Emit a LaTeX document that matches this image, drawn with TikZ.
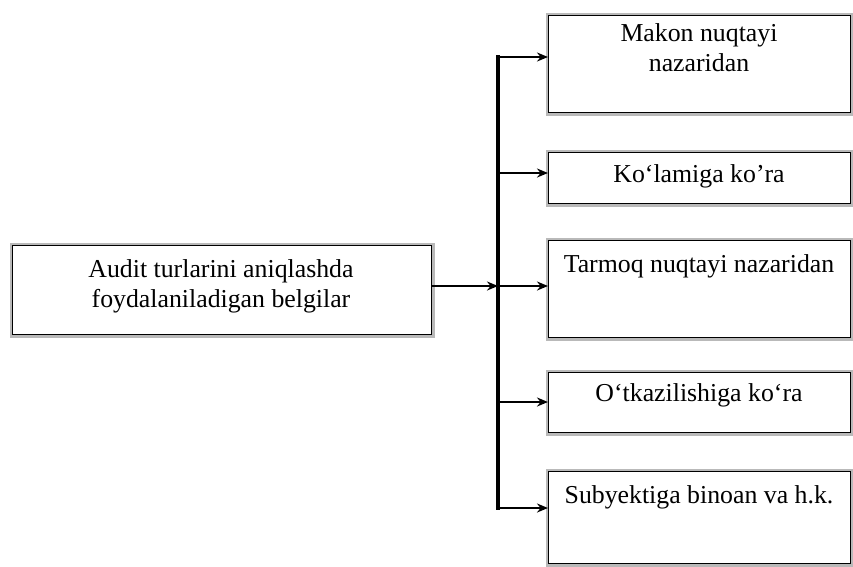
\documentclass[tikz,border=0pt]{standalone}
\usepackage{fontspec}
\setmainfont{Liberation Serif}
\usetikzlibrary{arrows.meta,calc}
\begin{document}
\begin{tikzpicture}[x=1pt,y=-1pt,
  box/.style={draw=black, fill=white, line width=1.4,
    preaction={draw=gray!55, line width=6},
    minimum width=#1, anchor=north west, inner sep=0},
  txt/.style={font=\fontsize{25.8}{30}\selectfont, align=center, inner sep=0, anchor=base},
  spine/.style={line width=3.4, line cap=rect},
  arr/.style={line width=1.9, -{Stealth[length=11,width=9]}}]
\useasboundingbox[fill=white] (0,0) rectangle (853,566);

% boxes
\node[box=419, minimum height=89] (main) at (12,245) {};
\node[box=302, minimum height=97] (b1) at (548,15) {};
\node[box=302, minimum height=51] (b2) at (548,152) {};
\node[box=302, minimum height=97] (b3) at (548,240) {};
\node[box=302, minimum height=60] (b4) at (548,372) {};
\node[box=302, minimum height=92] (b5) at (548,471) {};

% texts (base anchor = baseline of the last line)
\node[txt] (tm) at (221,307) {Audit turlarini aniqlashda\\foydalaniladigan belgilar};
\node[txt] (t1) at (699,71) {Makon nuqtayi\\nazaridan};
\node[txt] (t2) at (699,182) {Ko‘lamiga ko’ra};
\node[txt] (t3) at (699,272) {Tarmoq nuqtayi nazaridan};
\node[txt] (t4) at (699,401) {O‘tkazilishiga ko‘ra};
\node[txt] (t5) at (699,503) {Subyektiga binoan va h.k.};

% connectors
\coordinate (top) at (498,57);
\coordinate (j2) at (498,173);
\coordinate (mid) at (498,286);
\coordinate (j4) at (498,402);
\coordinate (bot) at (498,508);
\draw[spine] (top) -- (bot);
\draw[arr] (main.east |- mid) -- (mid);
\draw[arr] (top) -- (b1.west |- top);
\draw[arr] (j2) -- (b2.west |- j2);
\draw[arr] (mid) -- (b3.west |- mid);
\draw[arr] (j4) -- (b4.west |- j4);
\draw[arr] (bot) -- (b5.west |- bot);
\end{tikzpicture}
\end{document}
